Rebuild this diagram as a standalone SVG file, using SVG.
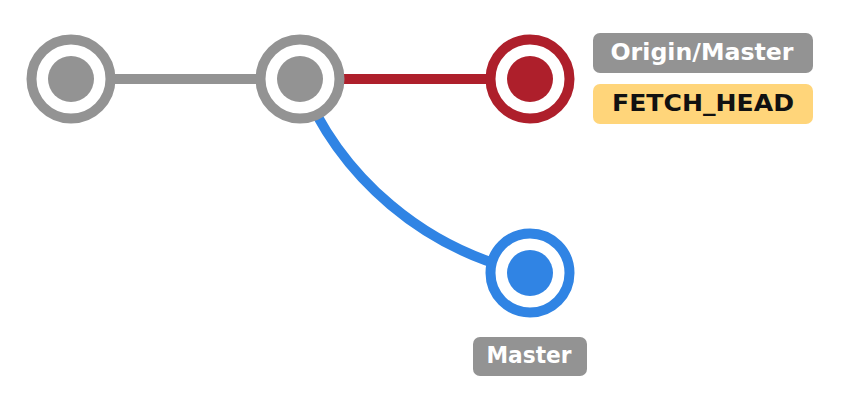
<svg xmlns="http://www.w3.org/2000/svg" width="851" height="408" viewBox="0 0 851 408">
<style>
.ring{fill:#fff;stroke-width:10}
.g{stroke:#939393}.gf{fill:#939393}
.r{stroke:#ae1f2b}.rf{fill:#ae1f2b}
.b{stroke:#3084e4}.bf{fill:#3084e4}
.edge{fill:none;stroke-width:10}
.lbl{font-family:"DejaVu Sans","Liberation Sans",sans-serif;font-weight:bold;font-size:23.5px;text-anchor:middle}
</style>
<rect width="851" height="408" fill="#fff"/>
<g id="connectors">
<line class="edge g" x1="71" y1="79" x2="300" y2="79"/>
<line class="edge r" x1="300" y1="79" x2="530" y2="79"/>
<path class="edge b" d="M300,79 A318,318 0 0 0 530,273"/>
</g>
<g id="node1">
<circle class="ring g" cx="71" cy="79" r="39.5"/>
<circle class="gf" cx="71" cy="79" r="23"/>
</g>
<g id="node2">
<circle class="ring g" cx="300" cy="79" r="39.5"/>
<circle class="gf" cx="300" cy="79" r="23"/>
</g>
<g id="node3">
<circle class="ring r" cx="530" cy="79" r="39.5"/>
<circle class="rf" cx="530" cy="79" r="23"/>
</g>
<g id="node4">
<circle class="ring b" cx="530" cy="273" r="39.5"/>
<circle class="bf" cx="530" cy="273" r="23"/>
</g>
<g id="label-origin-master">
<rect x="593" y="33" width="220" height="40" rx="7" fill="#939393"/>
<text class="lbl" x="702" y="59.5" fill="#fff" textLength="183" lengthAdjust="spacingAndGlyphs">Origin/Master</text>
</g>
<g id="label-fetch-head">
<rect x="593" y="84" width="220" height="40" rx="7" fill="#ffd57a"/>
<text class="lbl" x="703" y="110.5" fill="#111" textLength="182" lengthAdjust="spacingAndGlyphs">FETCH_HEAD</text>
</g>
<g id="label-master">
<rect x="473" y="337" width="114" height="39" rx="7" fill="#939393"/>
<text class="lbl" x="529" y="362.5" fill="#fff" textLength="85" lengthAdjust="spacingAndGlyphs">Master</text>
</g>
</svg>
